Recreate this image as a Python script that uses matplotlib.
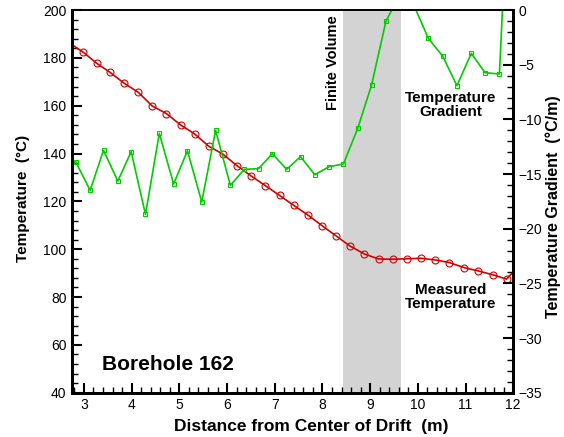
import numpy as np
import matplotlib
matplotlib.use('Agg')
import matplotlib.pyplot as plt
from matplotlib.ticker import MultipleLocator

plt.rcParams['font.family'] = ['Liberation Sans', 'DejaVu Sans']

# measured temperature (points outside the x range are clipped, as in the original)
dist_T = [2.69, 2.99, 3.27, 3.55, 3.85, 4.14, 4.43, 4.73, 5.03, 5.32, 5.62,
          5.91, 6.21, 6.50, 6.80, 7.10, 7.40, 7.70, 8.00, 8.29, 8.58,
          8.88, 9.18, 9.48, 9.77, 10.07, 10.37, 10.66, 10.97, 11.27, 11.57,
          11.86, 12.16]
temp = [186.3, 182.3, 177.7, 173.9, 169.3, 165.6, 159.9, 156.7, 151.9, 148.2, 143.0,
        139.8, 134.9, 130.7, 126.6, 122.5, 118.3, 114.2, 109.7, 105.5, 101.3,
        98.0, 95.9, 95.8, 96.0, 96.2, 95.5, 94.4, 92.3, 90.9, 89.3,
        87.5, 94.0]

# temperature gradient (degC/m)
dist_G = [2.83, 3.13, 3.41, 3.71, 3.99, 4.29, 4.58, 4.88, 5.17, 5.47, 5.76,
          6.07, 6.36, 6.66, 6.95, 7.25, 7.54, 7.84, 8.14, 8.44, 8.74,
          9.03, 9.33, 9.63, 9.92, 10.22, 10.52, 10.82, 11.12, 11.41, 11.71,
          12.01]
grad = [-13.90, -16.49, -12.83, -15.64, -12.96, -18.69, -11.28, -15.91, -12.87, -17.56, -11.00,
        -16.04, -14.57, -14.51, -13.14, -14.57, -13.41, -15.06, -14.33, -14.08, -10.82,
        -6.86, -1.04, 1.5, 0.4, -2.59, -4.21, -6.92, -3.96, -5.73, -5.85,
        21.8]

fv_zone = (8.44, 9.64)

red = '#d40000'
green = '#00cc00'

fig = plt.figure(figsize=(5.64, 4.37), dpi=100)
ax = fig.add_axes([0.1277, 0.1014, 0.7823, 0.8756])
ax2 = ax.twinx()

ax.axvspan(fv_zone[0], fv_zone[1], color='#d3d3d3', lw=0, zorder=0)
ax.plot(dist_T, temp, color=red, lw=1.2, marker='o', ms=5, mfc='none',
        mec=red, mew=0.8, zorder=3)
ax2.plot(dist_G, grad, color=green, lw=1.2, marker='s', ms=3.5, mfc='none',
         mec=green, mew=0.8)

ax.set_xlim(2.75, 12)
ax.set_ylim(40, 200)
ax2.set_ylim(-35, 0)

ax.xaxis.set_major_locator(MultipleLocator(1))
ax.xaxis.set_minor_locator(MultipleLocator(0.2))
ax.yaxis.set_major_locator(MultipleLocator(20))
ax.yaxis.set_minor_locator(MultipleLocator(4))
ax2.yaxis.set_major_locator(MultipleLocator(5))
ax2.yaxis.set_minor_locator(MultipleLocator(1))

ax.tick_params(which='both', direction='in', top=False, right=False,
               labelsize=10, pad=4)
ax.tick_params(which='major', length=7, width=1.5)
ax.tick_params(which='minor', length=4, width=1)
ax2.tick_params(which='both', direction='in', labelsize=10, pad=4)
ax2.tick_params(which='major', length=7, width=1.5)
ax2.tick_params(which='minor', length=4, width=1)

for side in ['left', 'bottom', 'right']:
    ax.spines[side].set_linewidth(2)
    ax2.spines[side].set_linewidth(2)
ax.spines['top'].set_linewidth(1.2)
ax2.spines['top'].set_linewidth(1.2)

ax.set_xlabel('Distance from Center of Drift  (m)', fontsize=12.5,
              fontweight='bold')
ax.xaxis.set_label_coords(0.543, -0.069)
ax.set_ylabel('Temperature  (°C)', fontsize=11, fontweight='bold')
ax.yaxis.set_label_coords(-0.095, 0.507)
ax2.set_ylabel('Temperature Gradient  (°C/m)', fontsize=11.5,
               fontweight='bold', rotation=90)
ax2.yaxis.set_label_coords(1.072, 0.487)

ax.text(8.37, 198, 'Finite Volume', rotation=90, ha='right', va='top',
        fontsize=10.5, fontweight='bold')
ax.text(10.69, 160.3, 'Temperature\nGradient', ha='center', va='center',
        fontsize=11, fontweight='bold', linespacing=0.95)
ax.text(10.69, 80.0, 'Measured\nTemperature', ha='center', va='center',
        fontsize=11, fontweight='bold', linespacing=0.95)
ax.text(3.37, 51.6, 'Borehole 162', ha='left', va='center',
        fontsize=15, fontweight='bold')

fig.savefig('out.png', dpi=100)
